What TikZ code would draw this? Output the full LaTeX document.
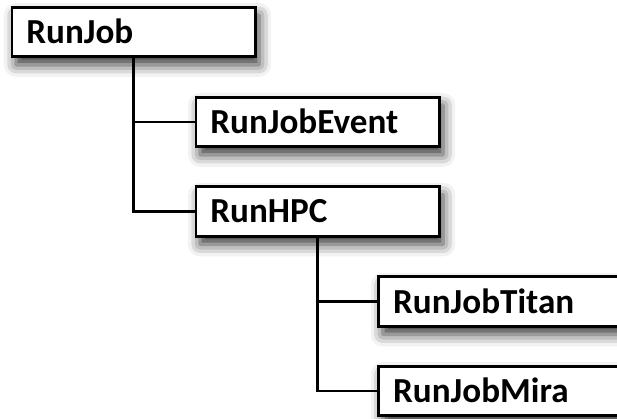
\documentclass[tikz,border=0pt]{standalone}
\usepackage{fontspec}
\setmainfont{Carlito}
\usepackage{tikz}
\usetikzlibrary{shadows.blur}

\begin{document}
\begin{tikzpicture}[
    job/.style={rectangle, draw=black, fill=white, line width=2pt,
        minimum width=6.08cm, minimum height=1.24cm, inner xsep=0.36cm,
        text width=5.36cm, align=left, text height=0.57cm, text depth=0pt,
        font=\fontsize{25}{30}\selectfont\bfseries,
        blur shadow={shadow xshift=0.1cm, shadow yshift=-0.2cm,
            shadow blur radius=0.3cm, shadow opacity=80}},
    link/.style={draw=black, line width=2pt}
]

% Cadre
\useasboundingbox (0, 0) rectangle (15.425, 10.45);

% Classes
\node[job] (runjob) at (3.34, 9.65) {RunJob};
\node[job] (event) at (7.94, 7.4) {RunJobEvent};
\node[job] (hpc) at (7.94, 5.16) {RunHPC};
\node[job] (titan) at (12.51, 2.91) {RunJobTitan};
\node[job] (mira) at (12.51, 0.675) {RunJobMira};

% Liens
\draw[link] (runjob.south) |- (event.west);
\draw[link] (runjob.south) |- (hpc.west);
\draw[link] (hpc.south) |- (titan.west);
\draw[link] (hpc.south) |- (mira.west);

\end{tikzpicture}
\end{document}
